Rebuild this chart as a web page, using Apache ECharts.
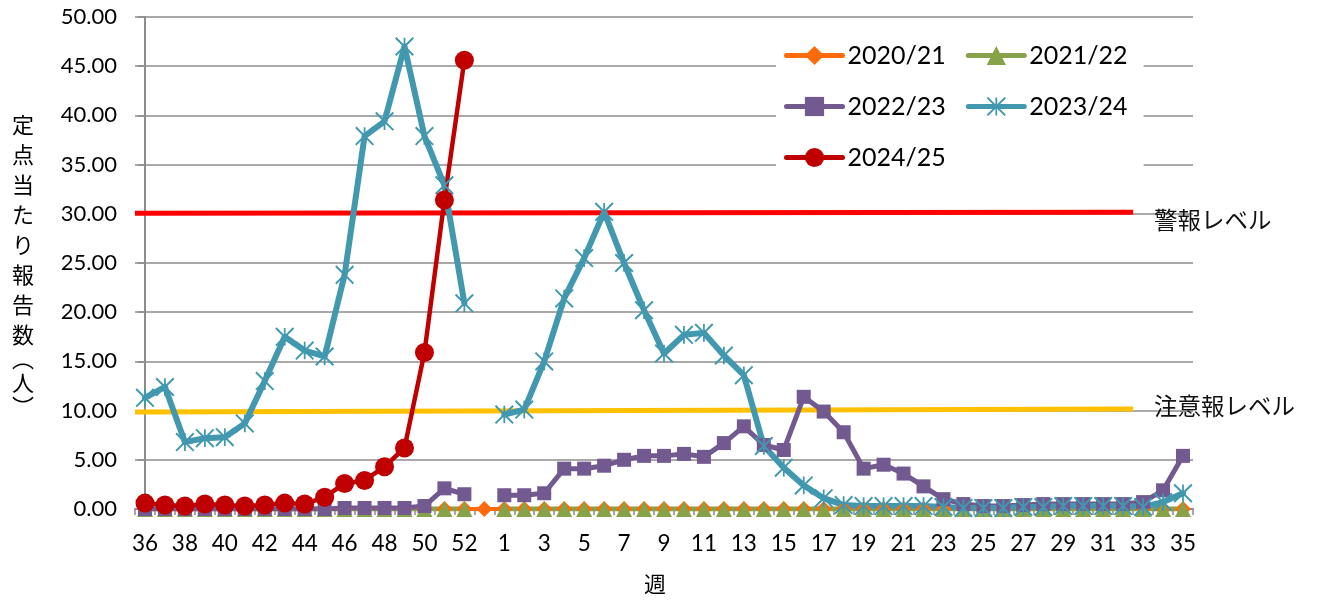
<!DOCTYPE html>
<html>
<head>
<meta charset="utf-8">
<script src="https://cdn.jsdelivr.net/npm/echarts@6/dist/echarts.min.js"></script>
<style>
  html, body { margin: 0; padding: 0; background: #fff; }
  #chart { width: 1317px; height: 601px; }
</style>
</head>
<body>
<div id="chart"></div>
<script>
// Season weeks: 36..53 of the first year, then 1..35 of the next
const weeks = ['36','37','38','39','40','41','42','43','44','45','46','47','48','49','50','51','52','53',
  '1','2','3','4','5','6','7','8','9','10','11','12','13','14','15','16','17','18','19','20',
  '21','22','23','24','25','26','27','28','29','30','31','32','33','34','35'];

// Reports per sentinel site, by season (null = no data for that week)
const s2020 = [0,0,0,0,0,0,0,0,0,0,0,0,0,0,0,0,0,0,
  0,0,0,0,0,0,0,0,0,0,0,0,0,0,0,0,0,0,0,0,0,0,0,0,0,0,0,0,0,0,0,0,0,0,0];
const s2021 = [0,0,0,0,0,0,0,0,0,0,0,0,0,0,0,0,0,null,
  0,0,0,0,0,0,0,0,0,0,0,0,0,0,0,0,0,0,0,0,0,0,0,0,0,0,0,0,0,0,0,0,0,0,0];
const s2022 = [0,0,0,0,0,0,0,0,0,0,0.1,0.1,0.1,0.1,0.3,2.1,1.5,null,
  1.4,1.4,1.6,4.1,4.1,4.4,5.0,5.4,5.4,5.6,5.3,6.7,8.4,6.5,6.0,11.4,9.9,7.8,4.1,4.5,
  3.6,2.3,1.0,0.5,0.3,0.3,0.4,0.5,0.5,0.5,0.5,0.5,0.7,1.9,5.4];
const s2023 = [11.3,12.4,6.8,7.2,7.3,8.7,13.0,17.5,16.1,15.5,23.8,37.9,39.4,47.0,37.9,32.9,20.9,null,
  9.6,10.1,15.0,21.4,25.5,30.2,25.0,20.2,15.8,17.7,17.9,15.6,13.6,6.4,4.2,2.4,1.1,0.4,0.3,0.3,
  0.3,0.3,0.2,0.1,0.1,0.1,0.2,0.2,0.3,0.3,0.3,0.3,0.2,0.7,1.6];
const s2024 = [0.6,0.4,0.3,0.5,0.4,0.3,0.4,0.6,0.5,1.2,2.6,2.9,4.3,6.2,15.9,31.4,45.6];

// Threshold lines: [week index, reports]
const alarmLevel = [[-0.5, 30.05], [49.5, 30.15]];
const warningLevel = [[-0.5, 9.85], [49.5, 10.17]];

const seasonNames = ['2020/21', '2021/22', '2022/23', '2023/24', '2024/25'];
const yTicks = { min: 0, max: 50, interval: 5 };

// six-armed asterisk marker
const asterisk = 'path://M45,0L55,0L55,100L45,100Z' +
  'M4,-4L104,96L96,104L-4,4Z' +
  'M-4,96L96,-4L104,4L4,104Z';

const NUM_FONT = "Lato, 'Noto Sans CJK JP', sans-serif";
const JP_FONT = "'Noto Sans CJK JP', sans-serif";

function season(name, data, color, symbol, size, width) {
  return {
    name: name,
    type: 'line',
    data: data,
    symbol: symbol,
    symbolSize: size,
    showAllSymbol: true,
    connectNulls: false,
    lineStyle: { color: color, width: width, cap: 'round', join: 'round' },
    itemStyle: { color: color },
    emphasis: { disabled: true },
    z: 3
  };
}

function threshold(name, data, color, offsetY) {
  return {
    name: name,
    type: 'line',
    xAxisIndex: 1,
    data: data,
    symbol: 'none',
    lineStyle: { color: color, width: 5 },
    silent: true,
    z: 2,
    endLabel: {
      show: true,
      formatter: name,
      distance: 21,
      offset: [0, offsetY],
      fontFamily: JP_FONT,
      fontSize: 23.5,
      color: '#111'
    }
  };
}

const chart = echarts.init(document.getElementById('chart'), null, { renderer: 'canvas' });

chart.setOption({
  animation: false,
  backgroundColor: '#fff',
  textStyle: { fontFamily: NUM_FONT },
  grid: { left: 135, right: 124, top: 17, bottom: 92, containLabel: false },
  legend: {
    data: seasonNames,
    left: 776,
    top: 30,
    width: 374,
    padding: [10, 16, 8, 8],
    backgroundColor: '#fff',
    itemWidth: 56,
    itemHeight: 24,
    itemGap: 20,
    lineStyle: { width: 5, cap: 'round' },
    textStyle: { fontFamily: NUM_FONT, fontSize: 25, lineHeight: 31, color: '#000' },
    z: 10
  },
  xAxis: [{
    type: 'category',
    data: weeks,
    boundaryGap: true,
    name: '週',
    nameLocation: 'middle',
    nameGap: 64,
    nameTextStyle: { fontFamily: JP_FONT, fontSize: 22, color: '#000', padding: [0, 18, 0, 0] },
    axisLine: { show: true, lineStyle: { color: '#8c8c8c', width: 2 } },
    axisTick: { show: true, interval: 0, length: 6, lineStyle: { color: '#8c8c8c', width: 1.5 } },
    axisLabel: { interval: 1, margin: 23, fontSize: 22.5, color: '#000', fontFamily: NUM_FONT },
    splitLine: { show: false }
  }, {
    type: 'value',
    min: -0.5,
    max: 52.5,
    show: false
  }],
  yAxis: {
    type: 'value',
    min: yTicks.min,
    max: yTicks.max,
    interval: yTicks.interval,
    name: '{a|定}\n{a|点}\n{a|当}\n{a|た}\n{a|り}\n{a|報}\n{a|告}\n{a|数}\n{p|︵}\n{a|人}\n{p|︶}',
    nameLocation: 'middle',
    nameRotate: 0,
    nameGap: 112,
    nameTextStyle: {
      align: 'center',
      verticalAlign: 'middle',
      fontFamily: JP_FONT,
      fontSize: 22,
      color: '#000',
      rich: {
        a: { fontFamily: JP_FONT, fontSize: 22, lineHeight: 30, color: '#000' },
        p: { fontFamily: JP_FONT, fontSize: 22, lineHeight: 18, color: '#000' }
      }
    },
    axisLine: { show: true, lineStyle: { color: '#8c8c8c', width: 2 } },
    axisTick: { show: true, length: 7, lineStyle: { color: '#8c8c8c', width: 1.5 } },
    axisLabel: {
      margin: 18,
      fontSize: 22,
      color: '#000',
      fontFamily: NUM_FONT,
      formatter: v => v.toFixed(2)
    },
    splitLine: { show: true, lineStyle: { color: '#8c8c8c', width: 1.5 } }
  },
  series: [
    threshold('警報レベル', alarmLevel, '#ff0000', 8),
    threshold('注意報レベル', warningLevel, '#ffc000', -3),
    season('2020/21', s2020, '#ff6a0a', 'diamond', 16, 4),
    season('2021/22', s2021, '#86a34a', 'triangle', 16, 5),
    season('2022/23', s2022, '#725990', 'rect', 14, 5),
    season('2023/24', s2023, '#4198af', asterisk, 19, 6),
    season('2024/25', s2024, '#c00000', 'circle', 19, 4.5)
  ]
});
</script>
</body>
</html>
